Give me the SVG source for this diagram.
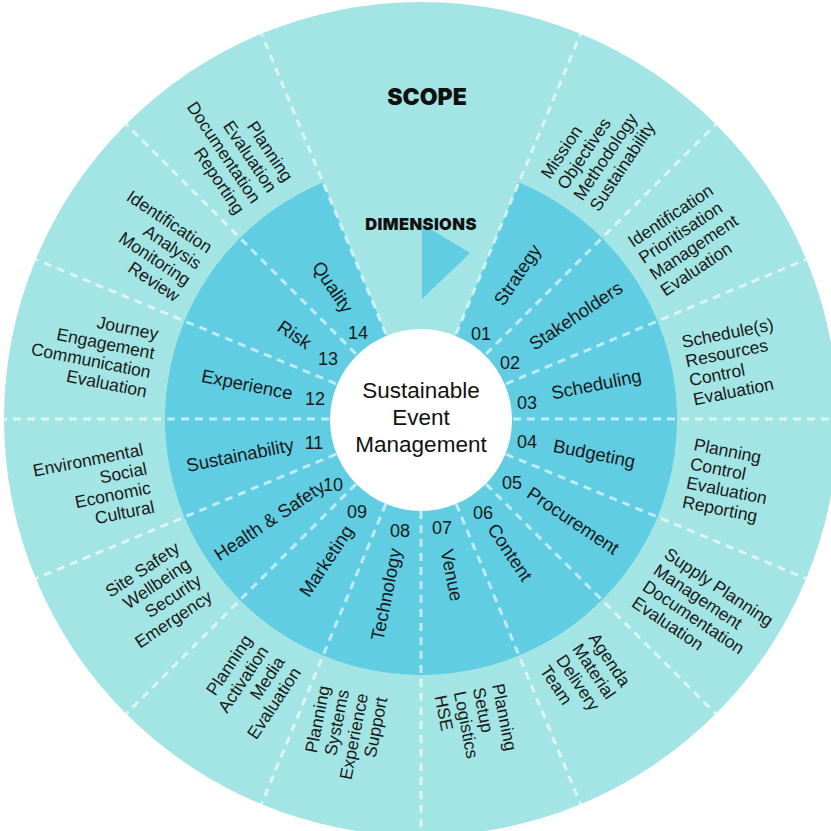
<svg xmlns="http://www.w3.org/2000/svg" width="831" height="831" viewBox="0 0 831 831">
<style>
.light{fill:#a3e5e4}
.dark{fill:#60cde2}
.div line{stroke:#ffffff;stroke-opacity:0.6;stroke-width:3;stroke-dasharray:8 6}
.dim{font-family:"Liberation Sans",Arial,sans-serif;font-size:18.5px;fill:#1a1a1a}
.num{font-family:"Liberation Sans",Arial,sans-serif;font-size:18px;fill:#1a1a1a;text-anchor:middle}
.scope{font-family:"Liberation Sans",Arial,sans-serif;font-size:17.5px;fill:#1a1a1a}
.st{text-anchor:start}
.en{text-anchor:end}
.head{font-family:Inter,"DejaVu Sans",sans-serif;font-weight:900;fill:#111111;text-anchor:middle}
.center{font-family:"Liberation Sans",Arial,sans-serif;font-size:22.5px;fill:#111111;text-anchor:middle}
</style>
<rect width="831" height="831" fill="#ffffff"/>
<circle id="scope-ring" class="light" cx="421" cy="419" r="417"/>
<path id="dimension-ring" class="dark" d="M421,419 L518.97,182.48 A256,256 0 1 1 323.03,182.48 Z"/>
<polygon id="dimensions-arrow" class="dark" points="422,224 470,253 422,299"/>
<g id="connectors" class="div">
<line x1="456.2" y1="334.0" x2="580.6" y2="33.7"/>
<line x1="486.1" y1="353.9" x2="715.9" y2="124.1"/>
<line x1="506.0" y1="383.8" x2="806.3" y2="259.4"/>
<line x1="513" y1="419" x2="838" y2="419"/>
<line x1="506.0" y1="454.2" x2="806.3" y2="578.6"/>
<line x1="486.1" y1="484.1" x2="715.9" y2="713.9"/>
<line x1="456.2" y1="504.0" x2="580.6" y2="804.3"/>
<line x1="421" y1="511" x2="421" y2="836"/>
<line x1="385.8" y1="504.0" x2="261.4" y2="804.3"/>
<line x1="355.9" y1="484.1" x2="126.1" y2="713.9"/>
<line x1="336.0" y1="454.2" x2="35.7" y2="578.6"/>
<line x1="329" y1="419" x2="4" y2="419"/>
<line x1="336.0" y1="383.8" x2="35.7" y2="259.4"/>
<line x1="355.9" y1="353.9" x2="126.1" y2="124.1"/>
<line x1="385.8" y1="334.0" x2="261.4" y2="33.7"/>
</g>
<text id="scope-title" class="head" x="427" y="105" font-size="23">SCOPE</text>
<text id="dimensions-title" class="head" x="421" y="230" font-size="16.5" letter-spacing="0.4">DIMENSIONS</text>
<g id="center">
<circle cx="421" cy="420" r="91" fill="#ffffff"/>
<text class="center" x="421" y="398">Sustainable</text>
<text class="center" x="421" y="425">Event</text>
<text class="center" x="421" y="452">Management</text>
</g>
<g id="dim-01">
<text class="dim st" transform="translate(498.2,303.4) rotate(-56.25)" dy="0.35em">Strategy</text>
<text class="num" x="481" y="339.5">01</text>
<text class="scope st" transform="translate(550,180) rotate(-56.25)"><tspan x="0" y="0">Mission</tspan><tspan x="0" dy="19.5">Objectives</tspan><tspan x="0" dy="19.5">Methodology</tspan><tspan x="0" dy="19.5">Sustainability</tspan></text>
</g>
<g id="dim-02">
<text class="dim st" transform="translate(530.8,345.7) rotate(-33.75)" dy="0.35em">Stakeholders</text>
<text class="num" x="510" y="368.5">02</text>
<text class="scope st" transform="translate(633,248) rotate(-33.75)"><tspan x="0" y="0">Identification</tspan><tspan x="0" dy="19.5">Prioritisation</tspan><tspan x="0" dy="19.5">Management</tspan><tspan x="0" dy="19.5">Evaluation</tspan></text>
</g>
<g id="dim-03">
<text class="dim st" transform="translate(551.4,393.1) rotate(-11.25)" dy="0.35em">Scheduling</text>
<text class="num" x="527" y="408.5">03</text>
<text class="scope st" transform="translate(683,348) rotate(-11.25)"><tspan x="0" y="0">Schedule(s)</tspan><tspan x="0" dy="19.5">Resources</tspan><tspan x="0" dy="19.5">Control</tspan><tspan x="0" dy="19.5">Evaluation</tspan></text>
</g>
<g id="dim-04">
<text class="dim st" transform="translate(553.4,445.3) rotate(11.25)" dy="0.35em">Budgeting</text>
<text class="num" x="527" y="447.5">04</text>
<text class="scope st" transform="translate(693,450) rotate(11.25)"><tspan x="0" y="0">Planning</tspan><tspan x="0" dy="19.5">Control</tspan><tspan x="0" dy="19.5">Evaluation</tspan><tspan x="0" dy="19.5">Reporting</tspan></text>
</g>
<g id="dim-05">
<text class="dim st" transform="translate(529.1,491.2) rotate(33.75)" dy="0.35em">Procurement</text>
<text class="num" x="512" y="488.5">05</text>
<text class="scope st" transform="translate(663,557) rotate(33.75)"><tspan x="0" y="0">Supply Planning</tspan><tspan x="0" dy="19.5">Management</tspan><tspan x="0" dy="19.5">Documentation</tspan><tspan x="0" dy="19.5">Evaluation</tspan></text>
</g>
<g id="dim-06">
<text class="dim st" transform="translate(492.1,525.4) rotate(56.25)" dy="0.35em">Content</text>
<text class="num" x="483" y="518.5">06</text>
<text class="scope st" transform="translate(588,638) rotate(56.25)"><tspan x="0" y="0">Agenda</tspan><tspan x="0" dy="19.5">Material</tspan><tspan x="0" dy="19.5">Delivery</tspan><tspan x="0" dy="19.5">Team</tspan></text>
</g>
<g id="dim-07">
<text class="dim st" transform="translate(446.9,549.4) rotate(78.75)" dy="0.35em">Venue</text>
<text class="num" x="442" y="533.5">07</text>
<text class="scope st" transform="translate(492,685) rotate(78.75)"><tspan x="0" y="0">Planning</tspan><tspan x="0" dy="19.5">Setup</tspan><tspan x="0" dy="19.5">Logistics</tspan><tspan x="0" dy="19.5">HSE</tspan></text>
</g>
<g id="dim-08">
<text class="dim en" transform="translate(395.2,548.5) rotate(-78.75)" dy="0.35em">Technology</text>
<text class="num" x="400" y="536.5">08</text>
<text class="scope en" transform="translate(330,687) rotate(-78.75)"><tspan x="0" y="0">Planning</tspan><tspan x="0" dy="19.5">Systems</tspan><tspan x="0" dy="19.5">Experience</tspan><tspan x="0" dy="19.5">Support</tspan></text>
</g>
<g id="dim-09">
<text class="dim en" transform="translate(348.8,527.1) rotate(-56.25)" dy="0.35em">Marketing</text>
<text class="num" x="357" y="517.5">09</text>
<text class="scope en" transform="translate(253,640) rotate(-56.25)"><tspan x="0" y="0">Planning</tspan><tspan x="0" dy="19.5">Activation</tspan><tspan x="0" dy="19.5">Media</tspan><tspan x="0" dy="19.5">Evaluation</tspan></text>
</g>
<g id="dim-10">
<text class="dim en" transform="translate(322.9,484.6) rotate(-33.75)" dy="0.35em">Health &amp; Safety</text>
<text class="num" x="333" y="490.5">10</text>
<text class="scope en" transform="translate(181,551) rotate(-33.75)"><tspan x="0" y="0">Site Safety</tspan><tspan x="0" dy="19.5">Wellbeing</tspan><tspan x="0" dy="19.5">Security</tspan><tspan x="0" dy="19.5">Emergency</tspan></text>
</g>
<g id="dim-11">
<text class="dim en" transform="translate(293.5,444.4) rotate(-11.25)" dy="0.35em">Sustainability</text>
<text class="num" x="314" y="448.5">11</text>
<text class="scope en" transform="translate(144,455) rotate(-11.25)"><tspan x="0" y="0">Environmental</tspan><tspan x="0" dy="19.5">Social</tspan><tspan x="0" dy="19.5">Economic</tspan><tspan x="0" dy="19.5">Cultural</tspan></text>
</g>
<g id="dim-12">
<text class="dim en" transform="translate(292.5,393.4) rotate(11.25)" dy="0.35em">Experience</text>
<text class="num" x="315" y="404.5">12</text>
<text class="scope en" transform="translate(157,340) rotate(11.25)"><tspan x="0" y="0">Journey</tspan><tspan x="0" dy="19.5">Engagement</tspan><tspan x="0" dy="19.5">Communication</tspan><tspan x="0" dy="19.5">Evaluation</tspan></text>
</g>
<g id="dim-13">
<text class="dim en" transform="translate(309.6,344.5) rotate(33.75)" dy="0.35em">Risk</text>
<text class="num" x="328" y="364.5">13</text>
<text class="scope en" transform="translate(207,254) rotate(33.75)"><tspan x="0" y="0">Identification</tspan><tspan x="0" dy="19.5">Analysis</tspan><tspan x="0" dy="19.5">Monitoring</tspan><tspan x="0" dy="19.5">Review</tspan></text>
</g>
<g id="dim-14">
<text class="dim en" transform="translate(348.8,310.9) rotate(56.25)" dy="0.35em">Quality</text>
<text class="num" x="358" y="338.5">14</text>
<text class="scope en" transform="translate(284,183) rotate(56.25)"><tspan x="0" y="0">Planning</tspan><tspan x="0" dy="19.5">Evaluation</tspan><tspan x="0" dy="19.5">Documentation</tspan><tspan x="0" dy="19.5">Reporting</tspan></text>
</g>
</svg>
